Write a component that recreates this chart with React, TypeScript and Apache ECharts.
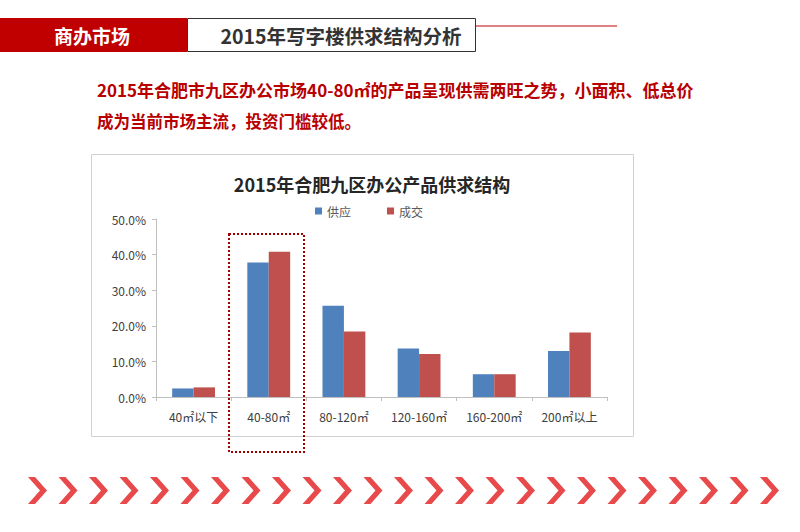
import React, { useEffect, useRef } from "react";
import * as echarts from "echarts";

const categories = ["40㎡以下", "40-80㎡", "80-120㎡", "120-160㎡", "160-200㎡", "200㎡以上"];
const supply = [2.4, 37.8, 25.6, 13.6, 6.4, 12.9];
const deal = [2.7, 40.8, 18.4, 12.1, 6.4, 18.1];
const yTicks = [0, 10, 20, 30, 40, 50];

const FONT = "'Noto Sans CJK SC', 'Noto Sans', sans-serif";

export default function App() {
  const ref = useRef<HTMLDivElement>(null);
  useEffect(() => {
    if (!ref.current) return;
    const chart = echarts.init(ref.current, null, { renderer: "svg", width: 800, height: 532 });

    const chevrons: any[] = [];
    for (let i = 0; i < 25; i++) {
      const x0 = 28 + i * 30.5;
      chevrons.push({
        type: "polygon",
        shape: {
          points: [
            [x0, 477], [x0 + 7, 477], [x0 + 19, 490.5], [x0 + 7, 504], [x0, 504], [x0 + 12, 490.5],
          ],
        },
        style: { fill: "#E84A4C" },
        silent: true,
      });
    }

    chart.setOption({
      animation: false,
      textStyle: { fontFamily: FONT },
      title: {
        text: "2015年合肥九区办公产品供求结构",
        left: 367,
        textAlign: "center",
        top: 170,
        textStyle: { fontSize: 18, fontWeight: "bold", color: "#262626", fontFamily: FONT },
      },
      legend: {
        data: ["供应", "成交"],
        left: 310,
        top: 200,
        icon: "rect",
        itemWidth: 7,
        itemHeight: 7,
        itemGap: 36,
        textStyle: { fontSize: 12, color: "#595959", fontFamily: FONT },
      },
      grid: { left: 156, right: 193, top: 219, bottom: 135 },
      xAxis: {
        type: "category",
        data: categories,
        axisLine: { lineStyle: { color: "#BFBFBF" } },
        axisTick: { show: true, length: 4, lineStyle: { color: "#BFBFBF" } },
        axisLabel: { color: "#404040", fontSize: 12, margin: 13, fontFamily: FONT },
      },
      yAxis: {
        type: "value",
        min: yTicks[0],
        max: yTicks[yTicks.length - 1],
        interval: 10,
        axisLine: { show: true, lineStyle: { color: "#BFBFBF" } },
        axisTick: { show: true, length: 4, lineStyle: { color: "#BFBFBF" } },
        splitLine: { show: false },
        axisLabel: {
          color: "#404040",
          fontSize: 12,
          margin: 10,
          fontFamily: FONT,
          formatter: (v: number) => v.toFixed(1) + "%",
        },
      },
      series: [
        {
          name: "供应",
          type: "bar",
          data: supply,
          barGap: "0%",
          barCategoryGap: "43%",
          itemStyle: { color: "#4F81BD" },
        },
        {
          name: "成交",
          type: "bar",
          data: deal,
          barGap: "0%",
          barCategoryGap: "43%",
          itemStyle: { color: "#C0504D" },
        },
      ],
      graphic: [
        { type: "rect", shape: { x: 0, y: 18, width: 187, height: 34 }, style: { fill: "#C00000" }, silent: true },
        {
          type: "text",
          x: 92,
          y: 35,
          style: {
            text: "商办市场",
            fill: "#ffffff",
            font: `bold 19px ${FONT}`,
            align: "center",
            verticalAlign: "middle",
          },
          silent: true,
        },
        { type: "line", shape: { x1: 187, y1: 26, x2: 617, y2: 26 }, style: { stroke: "#C00000", lineWidth: 1 }, silent: true },
        {
          type: "rect",
          shape: { x: 187.5, y: 18.5, width: 288, height: 33 },
          style: { fill: "#ffffff", stroke: "#333333", lineWidth: 1 },
          silent: true,
        },
        {
          type: "text",
          x: 341,
          y: 35,
          style: {
            text: "2015年写字楼供求结构分析",
            fill: "#333333",
            font: `bold 19.5px ${FONT}`,
            align: "center",
            verticalAlign: "middle",
          },
          silent: true,
        },
        {
          type: "text",
          x: 97,
          y: 89,
          style: {
            text: "2015年合肥市九区办公市场40-80㎡的产品呈现供需两旺之势，小面积、低总价",
            fill: "#B80000",
            font: `bold 17px ${FONT}`,
            verticalAlign: "middle",
          },
          silent: true,
        },
        {
          type: "text",
          x: 97,
          y: 121,
          style: {
            text: "成为当前市场主流，投资门槛较低。",
            fill: "#B80000",
            font: `bold 16.5px ${FONT}`,
            verticalAlign: "middle",
          },
          silent: true,
        },
        {
          type: "rect",
          z: -1,
          shape: { x: 91.5, y: 154.5, width: 542, height: 282 },
          style: { fill: "none", stroke: "#D0D0D0", lineWidth: 1 },
          silent: true,
        },
        {
          type: "rect",
          z: 100,
          shape: { x: 229, y: 234, width: 75, height: 218 },
          style: { fill: "none", stroke: "#A00000", lineWidth: 2, lineDash: [2, 2] },
          silent: true,
        },
        ...chevrons,
      ],
    });
    return () => chart.dispose();
  }, []);
  return <div ref={ref} style={{ position: "absolute", left: 0, top: 0, width: 800, height: 532, background: "#fff" }} />;
}
